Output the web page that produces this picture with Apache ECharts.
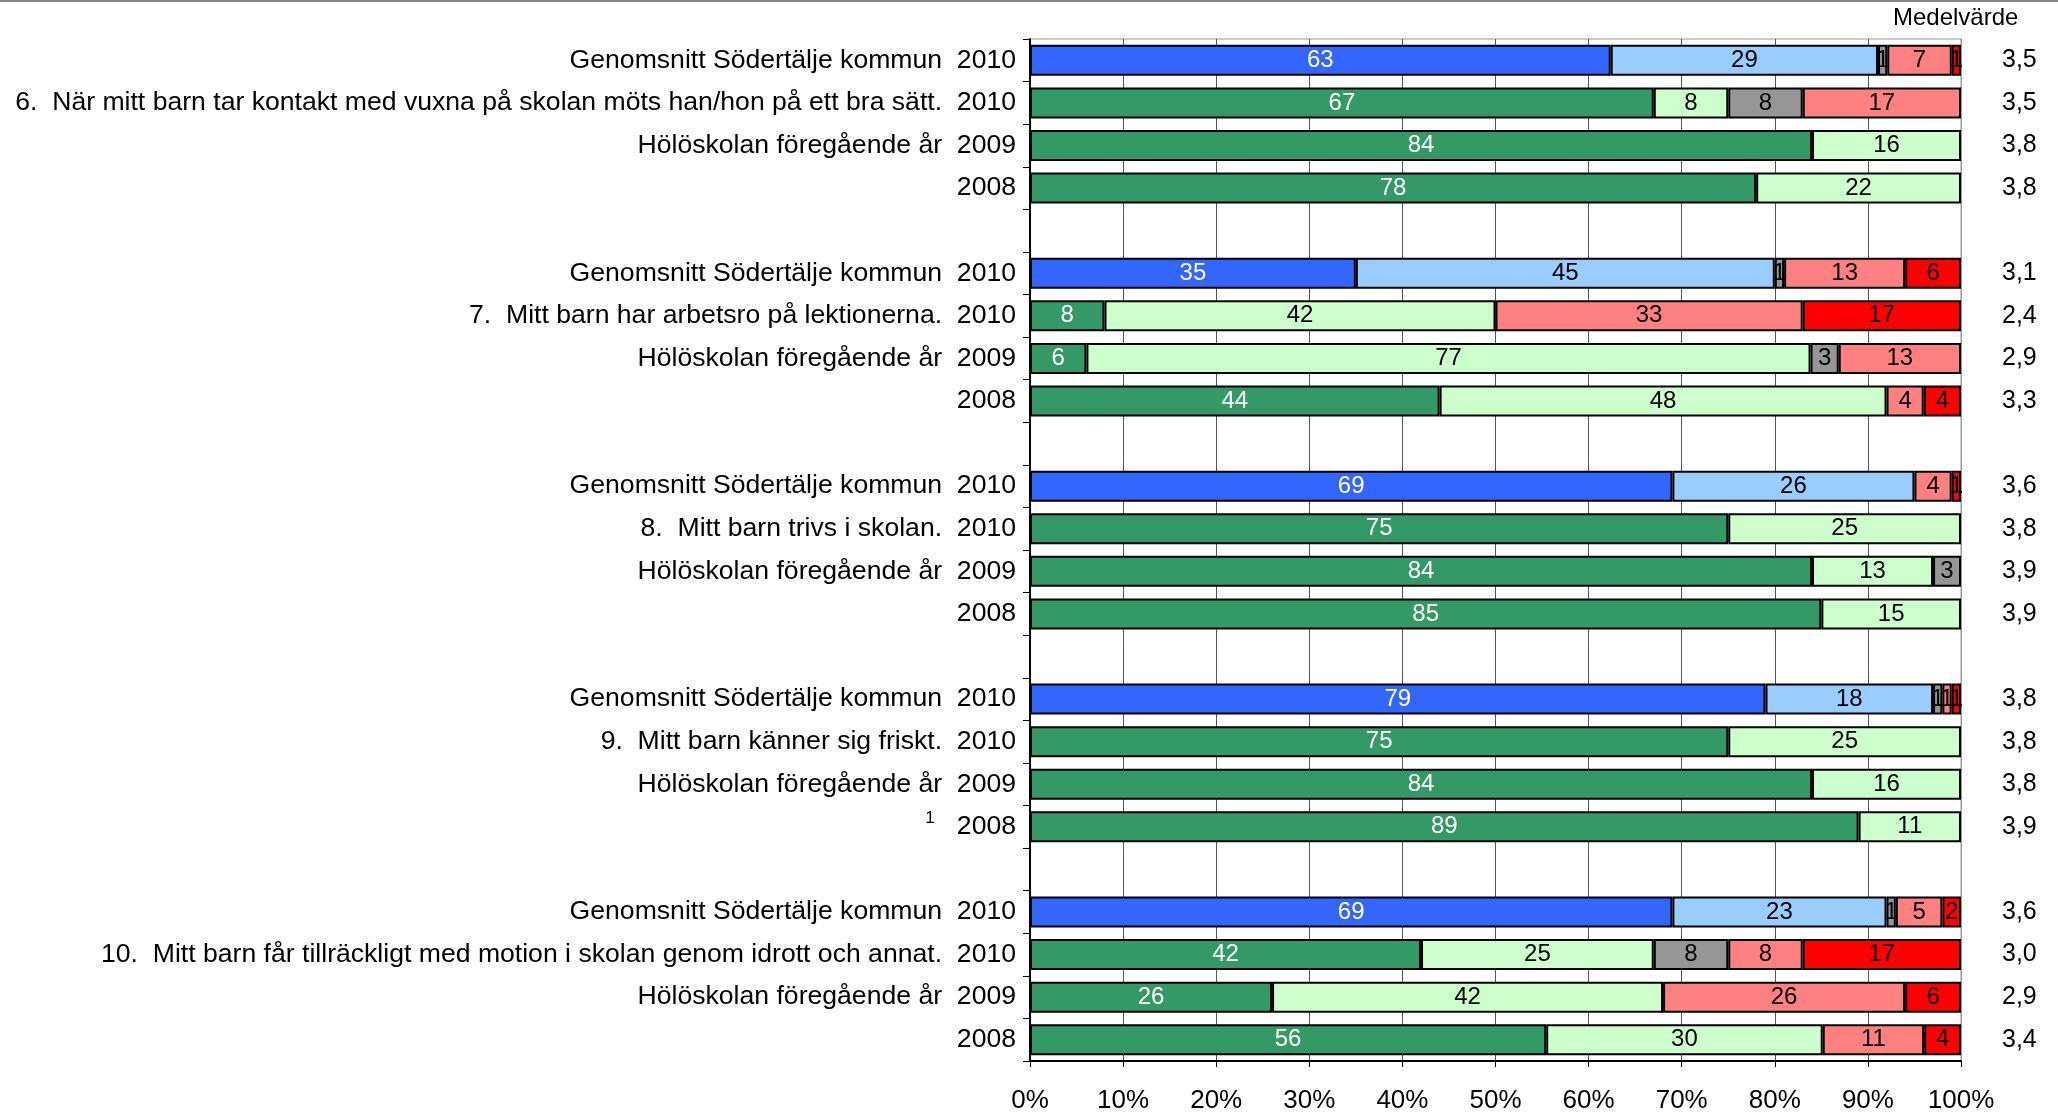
<!DOCTYPE html>
<html>
<head>
<meta charset="utf-8">
<script src="https://cdn.jsdelivr.net/npm/echarts@6/dist/echarts.min.js"></script>
<style>
  html, body { margin: 0; padding: 0; background: #fff; }
  #chart { width: 2058px; height: 1116px; }
</style>
</head>
<body>
<div id="chart"></div>
<script>
// rader uppifrån och ned, tomma rader skiljer frågorna åt
const categories = [
  'Genomsnitt Södertälje kommun  2010',
  '6.  När mitt barn tar kontakt med vuxna på skolan möts han/hon på ett bra sätt.  2010',
  'Hölöskolan föregående år  2009',
  '2008',
  '',
  'Genomsnitt Södertälje kommun  2010',
  '7.  Mitt barn har arbetsro på lektionerna.  2010',
  'Hölöskolan föregående år  2009',
  '2008',
  '',
  'Genomsnitt Södertälje kommun  2010',
  '8.  Mitt barn trivs i skolan.  2010',
  'Hölöskolan föregående år  2009',
  '2008',
  '',
  'Genomsnitt Södertälje kommun  2010',
  '9.  Mitt barn känner sig friskt.  2010',
  'Hölöskolan föregående år  2009',
  '¹   2008',
  '',
  'Genomsnitt Södertälje kommun  2010',
  '10.  Mitt barn får tillräckligt med motion i skolan genom idrott och annat.  2010',
  'Hölöskolan föregående år  2009',
  '2008'
]

// k = kommunens snitt, s = skolan
const rowType = ['k', 's', 's', 's', null, 'k', 's', 's', 's', null, 'k', 's', 's', 's', null,
  'k', 's', 's', 's', null, 'k', 's', 's', 's']

const stammerHelt = [63, 67, 84, 78, null, 35, 8, 6, 44, null, 69, 75, 84, 85, null, 79, 75, 84, 89, null, 69, 42, 26, 56]
const stammerGanska = [29, 8, 16, 22, null, 45, 42, 77, 48, null, 26, 25, 13, 15, null, 18, 25, 16, 11, null, 23, 25, 42, 30]
const vetEj = [1, 8, 0, 0, null, 1, 0, 3, 0, null, 0, 0, 3, 0, null, 1, 0, 0, 0, null, 1, 8, 0, 0]
const stammerGanskaDaligt = [7, 17, 0, 0, null, 13, 33, 13, 4, null, 4, 0, 0, 0, null, 1, 0, 0, 0, null, 5, 8, 26, 11]
const stammerInte = [1, 0, 0, 0, null, 6, 17, 0, 4, null, 1, 0, 0, 0, null, 1, 0, 0, 0, null, 2, 17, 6, 4]

const medelvarde = ['3,5', '3,5', '3,8', '3,8', '', '3,1', '2,4', '2,9', '3,3', '', '3,6', '3,8', '3,9', '3,9', '',
  '3,8', '3,8', '3,8', '3,9', '', '3,6', '3,0', '2,9', '3,4']

const xTicks = [0, 10, 20, 30, 40, 50, 60, 70, 80, 90, 100]

const allSeries = [stammerHelt, stammerGanska, vetEj, stammerGanskaDaligt, stammerInte]
const colors = {
  k: ['#3366ff', '#99ccff', '#969696', '#ff8080', '#ff0000'],
  s: ['#339966', '#ccffcc', '#969696', '#ff8080', '#ff0000']
}
const font = 'Liberation Sans, Arial, sans-serif'

// 100 % staplat som i Excel: varje rad räknas om till andel
const rowSum = categories.map((c, i) => allSeries.reduce((a, s) => a + (s[i] || 0), 0))

const series = allSeries.map((vals, si) => ({
  type: 'bar',
  stack: 'total',
  barWidth: 31,
  yAxisIndex: 0,
  label: {
    show: true,
    position: 'inside',
    fontFamily: font,
    fontSize: 24,
    color: si === 0 ? '#fff' : '#000',
    formatter: p => p.data.raw
  },
  itemStyle: { borderColor: '#000', borderWidth: 2 },
  data: vals.map((v, i) => {
    if (!v) return { value: null }
    return {
      value: v / rowSum[i] * 100,
      raw: v,
      itemStyle: { color: colors[rowType[i]][si] }
    }
  })
}))

const chart = echarts.init(document.getElementById('chart'))
chart.setOption({
  animation: false,
  backgroundColor: '#fff',
  grid: {
    left: 1030,
    right: 97,
    top: 39,
    bottom: 55,
    show: true,
    borderColor: '#999',
    borderWidth: 1
  },
  xAxis: {
    type: 'value',
    min: xTicks[0],
    max: xTicks[xTicks.length - 1],
    interval: 10,
    axisLine: { show: true, lineStyle: { color: '#000', width: 2 } },
    axisTick: { show: true, length: 6, lineStyle: { color: '#000' } },
    splitLine: { show: true, lineStyle: { color: '#555', width: 1 } },
    axisLabel: {
      formatter: '{value}%',
      fontFamily: font,
      fontSize: 26,
      color: '#000',
      margin: 27
    }
  },
  yAxis: [
    {
      type: 'category',
      inverse: true,
      data: categories,
      axisLine: { show: true, lineStyle: { color: '#000', width: 2 } },
      axisTick: { show: true, length: 7, lineStyle: { color: '#000' } },
      axisLabel: {
        fontFamily: font,
        fontSize: 26.6,
        color: '#000',
        margin: 14,
        // fotnotssiffran står upphöjd
        formatter: v => v.charAt(0) === '¹' ? '{sup|1}' + v.slice(1) : v,
        rich: {
          sup: { fontFamily: font, fontSize: 17, color: '#000', padding: [0, 0, 16, 0] }
        }
      }
    },
    {
      type: 'category',
      inverse: true,
      position: 'right',
      data: medelvarde,
      axisLine: { show: true, lineStyle: { color: '#999', width: 1 } },
      axisTick: { show: false },
      axisLabel: {
        fontFamily: font,
        fontSize: 25,
        color: '#000',
        margin: 41
      }
    }
  ],
  graphic: [
    { type: 'rect', left: 0, top: 0, shape: { width: 2058, height: 2 }, style: { fill: '#888' } },
    {
      type: 'text',
      left: 1893,
      top: 6,
      style: { text: 'Medelvärde', font: '24px ' + font, fill: '#000' }
    }
  ],
  series: series
})
</script>
</body>
</html>
